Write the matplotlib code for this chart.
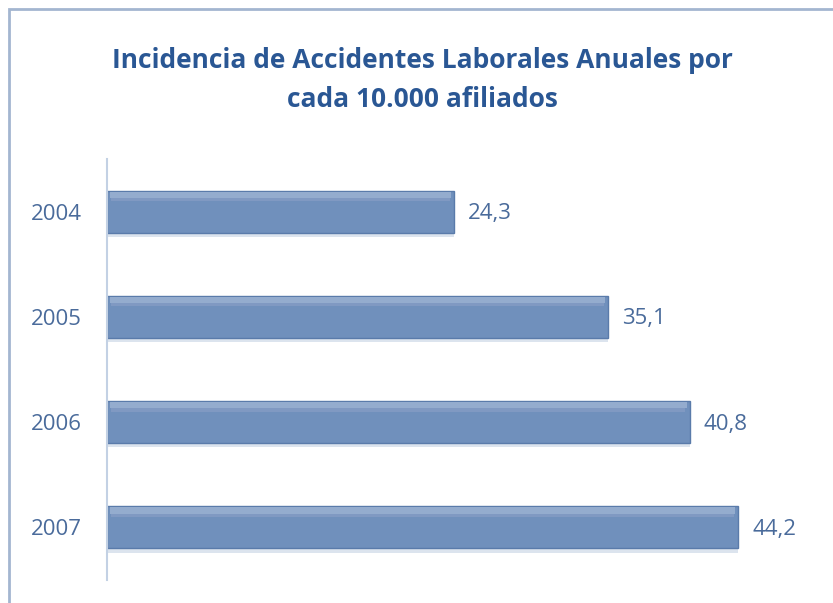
import matplotlib.pyplot as plt
from matplotlib.patches import Rectangle

years = ['2004', '2005', '2006', '2007']
values = [24.3, 35.1, 40.8, 44.2]
value_labels = ['24,3', '35,1', '40,8', '44,2']

title = 'Incidencia de Accidentes Laborales Anuales por\ncada 10.000 afiliados'

plt.rcParams['font.family'] = ['Open Sans', 'DejaVu Sans']

fig = plt.figure(figsize=(8.33, 6.03), dpi=100)

# outer frame of the chart area (runs off the right and bottom edges)
fig.patches.append(Rectangle((9 / 833, -0.05), 1.0, 1 - 9 / 603 + 0.05,
                             transform=fig.transFigure, fill=False,
                             edgecolor='#A3B6D0', linewidth=2.0))

ax = fig.add_axes([107 / 833, 23 / 603, 714 / 833, 421 / 603])

pos = list(range(len(years)))
# soft shadow under bars
ax.barh([p + 0.03 for p in pos], values, height=0.42, color='#DCE4EE',
        edgecolor='none', zorder=1)
ax.barh(pos, values, height=0.40, color='#7090BC', edgecolor='#5A7BAA',
        linewidth=1.0, zorder=2)
# bevel highlight along top of each bar
ax.barh([p - 0.16 for p in pos], [v - 0.4 for v in values], left=0.2,
        height=0.06, color='#94ACCE', edgecolor='none', zorder=3)
ax.barh([p - 0.115 for p in pos], [v - 0.6 for v in values], left=0.3,
        height=0.03, color='#8099C2', edgecolor='none', zorder=3)

for p, v, lab in zip(pos, values, value_labels):
    ax.text(v + 1.0, p + 0.02, lab, va='center', ha='left', fontsize=16,
            color='#4A6B9B')

ax.set_ylim(3.5, -0.5)
ax.set_xlim(0, 50)
ax.set_yticks(pos)
ax.set_yticklabels(years, fontsize=16, color='#4A6B9B')
ax.tick_params(axis='y', length=0, pad=18)
ax.set_xticks([])
for s in ['top', 'right', 'bottom']:
    ax.spines[s].set_visible(False)
ax.spines['left'].set_color('#C3D1E4')
ax.spines['left'].set_linewidth(1.5)

fig.text(422 / 833, 1 - 80 / 603, title, ha='center', va='center',
         fontsize=19, fontweight='bold', color='#2A5794', linespacing=1.55)

fig.savefig('out.png', dpi=100)
